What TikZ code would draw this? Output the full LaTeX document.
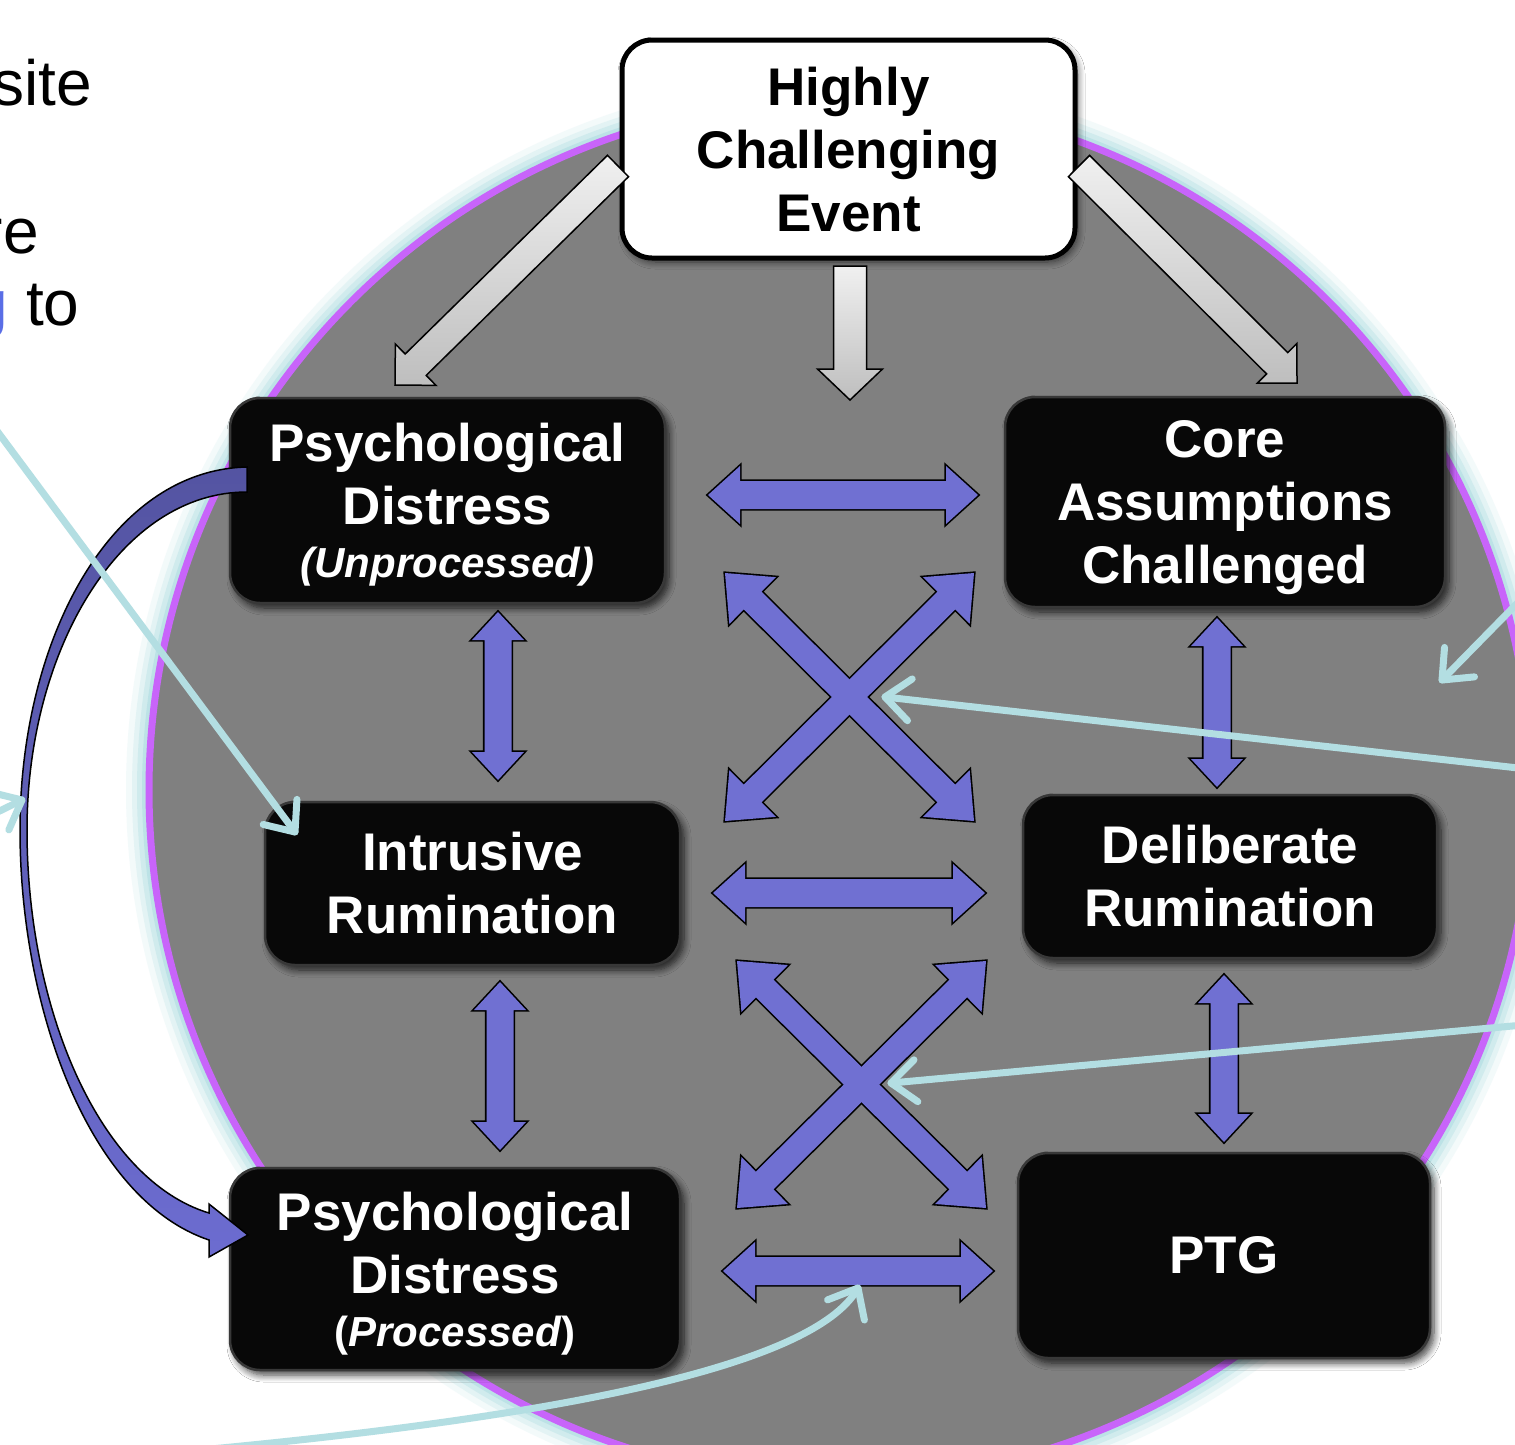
\documentclass[tikz,border=0pt]{standalone}
\usepackage{fontspec}
\setmainfont{Liberation Sans}
\usetikzlibrary{calc,arrows.meta,shadows.blur}
\definecolor{circgray}{HTML}{808080}
\definecolor{purp}{HTML}{C864FA}
\definecolor{glowc}{HTML}{B4DFE4}
\definecolor{cyanarr}{HTML}{B3DEE2}
\definecolor{bluearr}{HTML}{7070D2}
\definecolor{navytop}{HTML}{5454A2}
\definecolor{navybot}{HTML}{6C6CD0}
\definecolor{glight}{HTML}{F0F0F0}
\definecolor{gdark}{HTML}{BEBEBE}
\definecolor{txtblue}{HTML}{5A6EE6}
\newcommand\singleblk[6]{%
  \coordinate (hbx) at ($(#3)!#6!(#2)$);
  \path[#1] ($(#2)!#4!90:(#3)$) -- ($(hbx)!#4!90:(#3)$) -- ($(hbx)!#5!90:(#3)$) -- (#3)
    -- ($(hbx)!#5!-90:(#3)$) -- ($(hbx)!#4!-90:(#3)$) -- ($(#2)!#4!-90:(#3)$) -- cycle;}
\newcommand\doubleblk[6]{%
  \coordinate (hax) at ($(#2)!#6!(#3)$);
  \coordinate (hbx) at ($(#3)!#6!(#2)$);
  \path[#1] (#2) -- ($(hax)!#5!90:(#3)$) -- ($(hax)!#4!90:(#3)$) -- ($(hbx)!#4!90:(#3)$)
    -- ($(hbx)!#5!90:(#3)$) -- (#3) -- ($(hbx)!#5!-90:(#3)$) -- ($(hbx)!#4!-90:(#3)$)
    -- ($(hax)!#4!-90:(#3)$) -- ($(hax)!#5!-90:(#3)$) -- cycle;}
% open chevron head: #1 tip, #2 a point behind the tip on the connector
\newcommand\chevhead[2]{%
  \coordinate (chb) at ($(#1)!25pt!(#2)$);
  \draw[cyanline] ($(chb)!21pt!90:(#1)$) -- (#1) -- ($(chb)!21pt!-90:(#1)$);}
\begin{document}
\begin{tikzpicture}[x=1pt,y=-1pt,
  boxtext/.style={align=center, inner sep=0pt, font={\bfseries\fontsize{53}{63}\selectfont}},
  blackbox/.style={boxtext, rectangle, rounded corners=30pt, fill=black!97, draw=black!78, line width=2.5pt, text=white,
    blur shadow={shadow xshift=4pt, shadow yshift=-5pt, shadow blur steps=8, shadow blur radius=7pt, shadow opacity=75}},
  whitebox/.style={boxtext, rectangle, rounded corners=30pt, fill=white, draw=black, line width=5pt, text=black,
    blur shadow={shadow xshift=3pt, shadow yshift=-4pt, shadow blur steps=8, shadow blur radius=7pt, shadow opacity=60}},
  sidetext/.style={inner sep=0pt, font={\fontsize{64}{70}\selectfont}},
  grayarr/.style={draw=black, line width=1.5pt, top color=glight, bottom color=gdark},
  blueout/.style={draw=black, line width=3.2pt, line join=miter},
  bluefill/.style={fill=bluearr},
  cyanline/.style={draw=cyanarr, line width=7pt, line cap=round, line join=round}
]
\useasboundingbox (0,0) rectangle (1515,1444);
\fill[white] (0,0) rectangle (1515,1444);

% big circle with glow
\coordinate (cc) at (840,790);
\foreach \w/\o in {46/0.15,34/0.25,24/0.4,14/0.7}
  \draw[glowc, line width=\w pt, opacity=\o] (cc) circle[radius=691];
\fill[circgray] (cc) circle[radius=691];
\draw[purp, line width=7pt] (cc) circle[radius=691];

% partial text at the left
\node[sidetext, anchor=base east] (t1) at (92,105) {site};
\node[sidetext, anchor=base east] (t2) at (39,253) {re};
\node[sidetext, anchor=base west] (t3) at (-27.5,325) {\textcolor{txtblue}{g} to};

% boxes
\node[whitebox, minimum width=453pt, minimum height=218pt, text depth=-5pt] (ev) at (848.5,149) {Highly\\Challenging\\Event};
\node[blackbox, minimum width=435pt, minimum height=205pt, text depth=-4pt] (pdu) at (447.5,500.5)
  {Psychological\\Distress\\[-10pt]{\fontsize{42}{50}\selectfont\itshape (Unprocessed)}};
\node[blackbox, minimum width=440pt, minimum height=210pt, text depth=-3pt] (core) at (1225,502) {Core\\Assumptions\\Challenged};
\node[blackbox, minimum width=415pt, minimum height=163pt] (intr) at (472.5,883.5) {Intrusive\\Rumination};
\node[blackbox, minimum width=414pt, minimum height=163pt] (delib) at (1230,876.5) {Deliberate\\Rumination};
\node[blackbox, minimum width=450pt, minimum height=202pt, text depth=-6pt] (pdp) at (455,1269)
  {Psychological\\Distress\\[-10pt]{\fontsize{42}{50}\selectfont (\textit{Processed})}};
\node[blackbox, minimum width=412pt, minimum height=205pt] (ptg) at (1224,1255.5) {PTG};

% gray arrows from the event
\coordinate (ga1s) at (618,166); \coordinate (ga1e) at (395,385);
\coordinate (ga2s) at (850,266); \coordinate (ga2e) at (850,400);
\coordinate (ga3s) at (1079,166); \coordinate (ga3e) at (1297,383);
\singleblk{grayarr}{ga1s}{ga1e}{15pt}{29pt}{29pt}
\singleblk{grayarr}{ga2s}{ga2e}{16.5pt}{32.5pt}{31pt}
\singleblk{grayarr}{ga3s}{ga3e}{15pt}{28pt}{28pt}

% blue double arrows
\coordinate (h1a) at (708,495);  \coordinate (h1b) at (978,495);
\coordinate (h2a) at (713,893);  \coordinate (h2b) at (985,893);
\coordinate (h3a) at (723,1271); \coordinate (h3b) at (993,1271);
\coordinate (v1a) at (498,612);  \coordinate (v1b) at (498,780);
\coordinate (v2a) at (1217,618); \coordinate (v2b) at (1217,787);
\coordinate (v3a) at (500,982);  \coordinate (v3b) at (500,1150);
\coordinate (v4a) at (1224,975); \coordinate (v4b) at (1224,1142);
\coordinate (x1a) at (725,573);  \coordinate (x1b) at (974,821);
\coordinate (x1c) at (974,573);  \coordinate (x1d) at (725,821);
\coordinate (x2a) at (737,961);  \coordinate (x2b) at (986,1208);
\coordinate (x2c) at (986,961);  \coordinate (x2d) at (737,1208);
\foreach \p/\q in {h1a/h1b,h2a/h2b,h3a/h3b}{
  \doubleblk{blueout}{\p}{\q}{14pt}{29pt}{32pt}
  \doubleblk{bluefill}{\p}{\q}{14pt}{29pt}{32pt}}
\foreach \p/\q in {v1a/v1b,v2a/v2b,v3a/v3b,v4a/v4b}{
  \doubleblk{blueout}{\p}{\q}{13.5pt}{26pt}{28pt}
  \doubleblk{bluefill}{\p}{\q}{13.5pt}{26pt}{28pt}}
\foreach \a/\b/\c/\d in {x1a/x1b/x1c/x1d,x2a/x2b/x2c/x2d}{
  \doubleblk{blueout}{\a}{\b}{12.5pt}{33pt}{39pt}
  \doubleblk{blueout}{\c}{\d}{12.5pt}{33pt}{39pt}
  \doubleblk{bluefill}{\a}{\b}{12.5pt}{33pt}{39pt}
  \doubleblk{bluefill}{\c}{\d}{12.5pt}{33pt}{39pt}}

% navy curved arrow
\coordinate (na1) at (247,467);
\coordinate (na2) at (248,1235);
\draw[black, line width=1.5pt, top color=navytop, bottom color=navybot]
  (na1) .. controls (110,470) and (20,640) .. (20,830)
  .. controls (20,1010) and (90,1200) .. (209,1240)
  -- (209,1257) -- (na2) -- (209,1204) -- (209,1213)
  .. controls (100,1180) and (27,1010) .. (27,830)
  .. controls (27,650) and (120,492) .. (247,492) -- cycle;

% light cyan pointer arrows
\coordinate (c1s) at (-20,408);  \coordinate (c1e) at (295,832);
\coordinate (c2s) at (-100,860); \coordinate (c2e) at (22,800);
\coordinate (c3s) at (1545,575); \coordinate (c3e) at (1442,680);
\coordinate (c4s) at (1545,771); \coordinate (c4e) at (885,697);
\coordinate (c5s) at (1545,1023);\coordinate (c5e) at (891,1083);
\coordinate (c6s) at (200,1450); \coordinate (c6e) at (858,1288);
\coordinate (c6k) at (812,1372);
\draw[cyanline] (c1s) -- (c1e);  \chevhead{c1e}{c1s}
\draw[cyanline] (c2s) -- (c2e);  \chevhead{c2e}{c2s}
\draw[cyanline] (c3s) -- (c3e);  \chevhead{c3e}{c3s}
\draw[cyanline] (c4s) -- (c4e);  \chevhead{c4e}{c4s}
\draw[cyanline] (c5s) -- (c5e);  \chevhead{c5e}{c5s}
\draw[cyanline] (c6s) .. controls (520,1420) and (c6k) .. (c6e);  \chevhead{c6e}{c6k}
\end{tikzpicture}
\end{document}
